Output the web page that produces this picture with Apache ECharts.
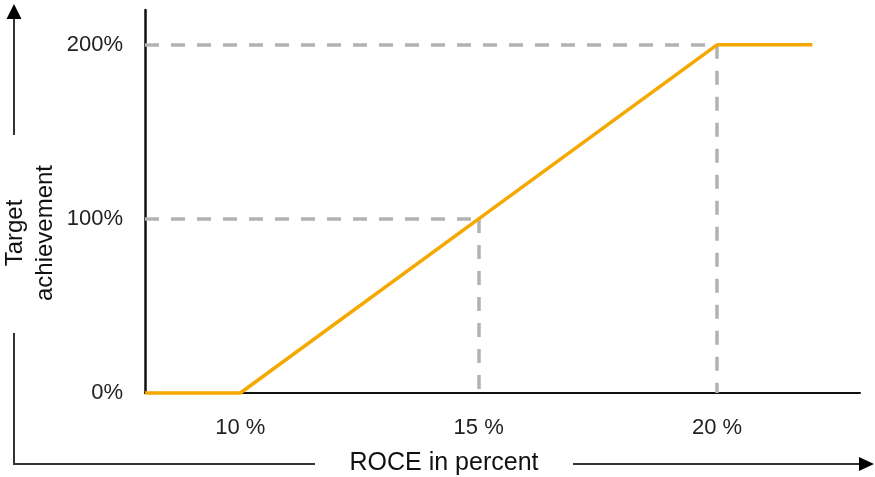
<!DOCTYPE html>
<html>
<head>
<meta charset="utf-8">
<script src="https://cdn.jsdelivr.net/npm/echarts@6/dist/echarts.min.js"></script>
<style>
  html, body { margin: 0; padding: 0; background: #fff; }
  #chart { width: 875px; height: 477px; }
</style>
</head>
<body>
<div id="chart"></div>
<script>
// ROCE (in percent) vs. target achievement (in percent)
const roce = [8, 10, 15, 20, 22];
const achievement = [0, 0, 100, 200, 200];
const xTicks = [10, 15, 20];
const yTicks = [0, 100, 200];
// Points on the curve that get dashed guide lines to both axes
const guideRoce = [15, 20];
const guideAchievement = [100, 200];

const X_MIN = 8, X_MAX = 23, Y_MIN = 0, Y_MAX = 220;
const FONT = '"Liberation Sans", Arial, sans-serif';
const ORANGE = '#f5a800';
const GUIDE = '#b2b2b2';
const ARROW = '#333333';

// Dashed guides: horizontal from the y axis to the point, vertical down to the x axis
const guideLines = [];
guideRoce.forEach((x, i) => {
  const y = guideAchievement[i];
  guideLines.push([{ coord: [X_MIN, y] }, { coord: [x, y] }]);
  guideLines.push([{ coord: [x, y] }, { coord: [x, Y_MIN] }]);
});

const chart = echarts.init(document.getElementById('chart'), null, { renderer: 'canvas' });

chart.setOption({
  animation: false,
  backgroundColor: '#ffffff',
  grid: { left: 145, right: 15, top: 10, bottom: 84, containLabel: false },
  xAxis: {
    type: 'value',
    min: X_MIN,
    max: X_MAX,
    axisLine: { show: true, onZero: false, lineStyle: { color: '#111', width: 2 } },
    axisTick: { show: false },
    splitLine: { show: false },
    axisLabel: {
      customValues: xTicks,
      formatter: v => v + ' %',
      margin: 24,
      color: '#222',
      fontFamily: FONT,
      fontSize: 22
    }
  },
  yAxis: {
    type: 'value',
    min: Y_MIN,
    max: Y_MAX,
    axisLine: { show: true, onZero: false, lineStyle: { color: '#111', width: 2.5 } },
    axisTick: { show: false },
    splitLine: { show: false },
    axisLabel: {
      customValues: yTicks,
      formatter: v => v + '%',
      margin: 22,
      color: '#222',
      fontFamily: FONT,
      fontSize: 22
    }
  },
  series: [
    {
      name: 'guides',
      type: 'line',
      data: [],
      z: 1,
      silent: true,
      markLine: {
        silent: true,
        symbol: ['none', 'none'],
        label: { show: false },
        lineStyle: { color: GUIDE, width: 3.5, type: [14, 12], opacity: 1 },
        data: guideLines
      }
    },
    {
      name: 'Target achievement',
      type: 'line',
      z: 5,
      clip: false,
      showSymbol: false,
      symbol: 'none',
      lineStyle: { color: ORANGE, width: 3.5 },
      data: roce.map((x, i) => [x, achievement[i]])
    }
  ],
  graphic: [
    // vertical arrow (upper part with head)
    { type: 'line', shape: { x1: 14, y1: 135, x2: 14, y2: 17 }, style: { stroke: ARROW, lineWidth: 2 } },
    { type: 'polygon', shape: { points: [[14, 4], [6.5, 19], [21.5, 19]] }, style: { fill: '#000' } },
    // lower part of the vertical arrow joined to the left part of the horizontal arrow
    { type: 'polyline', shape: { points: [[14, 333], [14, 464], [315, 464]] }, style: { stroke: ARROW, lineWidth: 2, fill: null } },
    // right part of the horizontal arrow with head
    { type: 'line', shape: { x1: 573, y1: 464, x2: 861, y2: 464 }, style: { stroke: ARROW, lineWidth: 2 } },
    { type: 'polygon', shape: { points: [[874, 464], [859, 457], [859, 471]] }, style: { fill: '#000' } },
    // axis titles
    {
      type: 'text', x: 444, y: 463,
      style: { text: 'ROCE in percent', font: '25px ' + FONT, fill: '#111', textAlign: 'center', textVerticalAlign: 'middle' }
    },
    {
      type: 'text', x: 30, y: 233, rotation: Math.PI / 2,
      style: { text: 'Target\nachievement', font: '24px ' + FONT, fill: '#111', textAlign: 'center', textVerticalAlign: 'middle', lineHeight: 30 }
    }
  ]
});
</script>
</body>
</html>
